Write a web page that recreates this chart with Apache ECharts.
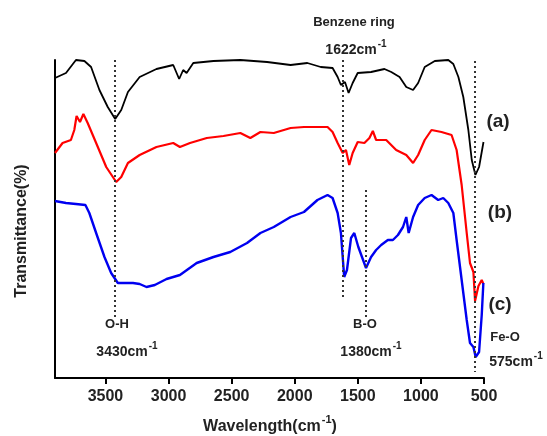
<!DOCTYPE html>
<html lang="en">
<head>
<meta charset="utf-8" />
<title>FTIR spectra</title>
<script src="https://cdn.jsdelivr.net/npm/echarts@6/dist/echarts.min.js"></script>
<style>
  html, body { margin: 0; padding: 0; background: #fff; }
  #chart { width: 547px; height: 436px; }
</style>
</head>
<body>
<div id="chart"></div>
<script type="text/javascript">
// wavenumber (cm-1) and relative transmittance
var aWave = [3900,3813,3734,3667,3614,3548,3482,3423,3375,3322,3229,3096,2963,2916,2884,2857,2804,2644,2431,2219,2033,1900,1794,1700,1660,1634,1602,1573,1541,1501,1395,1289,1235,1169,1116,1062,1022,970,890,783,743,703,664,624,597,568,539,504];
var aVal  = [300,305,318,317,311,288,271,259,268,286,301,309,313,299,308,305,315,317,318,316,313,315,311,310,301,293,296,285,295,305,306,309,306,301,291,288,295,311,317,318,314,301,281,248,218,203,211,236];

var bWave = [3900,3840,3774,3747,3729,3702,3675,3641,3574,3494,3415,3375,3322,3229,3096,2963,2910,2830,2697,2565,2431,2352,2272,2166,2033,1927,1740,1700,1660,1620,1594,1568,1541,1501,1448,1408,1381,1355,1275,1196,1116,1062,1022,970,916,837,757,717,677,637,611,584,571,544,518,505];
var bVal  = [225,235,238,248,262,256,264,255,235,211,196,201,215,223,231,235,231,235,240,242,245,240,246,245,250,251,251,246,235,225,228,213,225,236,235,240,247,238,238,228,223,215,223,238,248,246,243,228,193,145,115,106,77,92,98,94];

var cWave = [3900,3813,3734,3659,3628,3574,3508,3455,3402,3335,3282,3229,3175,3109,3016,2910,2777,2644,2511,2378,2272,2166,2033,1927,1820,1740,1700,1660,1634,1608,1586,1554,1528,1496,1435,1395,1355,1315,1262,1222,1182,1142,1116,1097,1062,1022,970,916,863,823,783,743,717,677,637,611,584,566,539,518,505];
var cVal  = [177,175,174,173,165,145,121,105,95,95,95,94,91,93,99,103,115,121,126,135,145,151,161,166,178,183,180,165,145,101,108,140,145,131,110,121,128,133,138,138,143,151,161,145,161,173,180,183,178,180,175,165,138,98,58,35,31,21,26,63,95];

var xTicks = [3500, 3000, 2500, 2000, 1500, 1000, 500];

// dotted guide lines: [wavenumber, from, to]
var guides = [[3430, 318, 61], [1622, 318, 78], [1440, 188, 61], [575, 317, 6]];

var FONT = '"Liberation Sans", Arial, sans-serif';
var TXT = '#222';

function zip(xs, ys) {
    var out = [];
    for (var i = 0; i < xs.length; i++) out.push([xs[i], ys[i]]);
    return out;
}

var measureCtx = document.createElement('canvas').getContext('2d');
function textWidth(str, size) {
    measureCtx.font = 'bold ' + size + 'px ' + FONT;
    return measureCtx.measureText(str).width;
}

function txt(x, y, str, size, align) {
    return { type: 'text', x: x, y: y, silent: true,
             style: { text: str, font: 'bold ' + size + 'px ' + FONT, fill: TXT, align: align || 'left', verticalAlign: 'middle' } };
}

// text with a "-1" superscript (and optional tail), centred on (cx, cy)
function supText(cx, cy, main, size, tail) {
    var supSize = Math.round(size * 0.7);
    var w1 = textWidth(main, size), w2 = textWidth('-1', supSize), w3 = tail ? textWidth(tail, size) : 0;
    var left = cx - (w1 + w2 + 1 + w3) / 2;
    var out = [txt(left, cy, main, size), txt(left + w1 + 1, cy - size * 0.42, '-1', supSize)];
    if (tail) out.push(txt(left + w1 + 1 + w2, cy, tail, size));
    return out;
}

function plain(cx, cy, str, size, rot) {
    var t = txt(cx, cy, str, size, 'center');
    t.rotation = rot || 0;
    return t;
}

var graphics = [
    plain(354, 22, 'Benzene ring', 13),
    plain(498, 122, '(a)', 19),
    plain(500, 213, '(b)', 19),
    plain(500, 305, '(c)', 19),
    plain(117, 324, 'O-H', 13),
    plain(365, 324, 'B-O', 13),
    plain(505, 337, 'Fe-O', 13),
    plain(22, 231, 'Transmittance(%)', 16, Math.PI / 2)
].concat(
    supText(356, 50, '1622cm', 14),
    supText(127, 352, '3430cm', 14),
    supText(371, 352, '1380cm', 14),
    supText(516, 362, '575cm', 14),
    supText(270, 427, 'Wavelength(cm', 16, ')')
);

var guideData = guides.map(function (g) {
    return [{ coord: [g[0], g[1]] }, { coord: [g[0], g[2]] }];
});

var chart = echarts.init(document.getElementById('chart'), null, { renderer: 'canvas' });
chart.setOption({
    animation: false,
    backgroundColor: '#fff',
    grid: { left: 55, right: 63, top: 60, bottom: 58, containLabel: false, outerBoundsMode: 'none' },
    xAxis: {
        type: 'value',
        inverse: true,
        min: 500,
        max: 3900,
        splitLine: { show: false },
        axisLine: { show: true, onZero: false, lineStyle: { color: '#000', width: 2 } },
        axisTick: { show: true, length: 6, customValues: xTicks, lineStyle: { color: '#000', width: 2 } },
        axisLabel: {
            customValues: xTicks, margin: 11, color: TXT, fontSize: 16, fontWeight: 'bold', fontFamily: FONT,
            formatter: function (v) { return String(v); }
        }
    },
    yAxis: {
        type: 'value',
        min: 0,
        max: 318,
        splitLine: { show: false },
        axisLine: { show: true, onZero: false, lineStyle: { color: '#000', width: 2 } },
        axisTick: { show: false },
        axisLabel: { show: false }
    },
    series: [
        {
            name: '(a)', type: 'line', data: zip(aWave, aVal), showSymbol: false, symbol: 'none',
            lineStyle: { color: '#000', width: 1.8 }, z: 3,
            markLine: {
                silent: true, symbol: 'none', label: { show: false },
                lineStyle: { color: '#333', width: 2, type: [2, 3] },
                data: guideData
            }
        },
        {
            name: '(b)', type: 'line', data: zip(bWave, bVal), showSymbol: false, symbol: 'none',
            lineStyle: { color: '#f00', width: 2.2 }, z: 3
        },
        {
            name: '(c)', type: 'line', data: zip(cWave, cVal), showSymbol: false, symbol: 'none',
            lineStyle: { color: '#0000f0', width: 2.4 }, z: 3
        }
    ],
    graphic: graphics
});
</script>
</body>
</html>
